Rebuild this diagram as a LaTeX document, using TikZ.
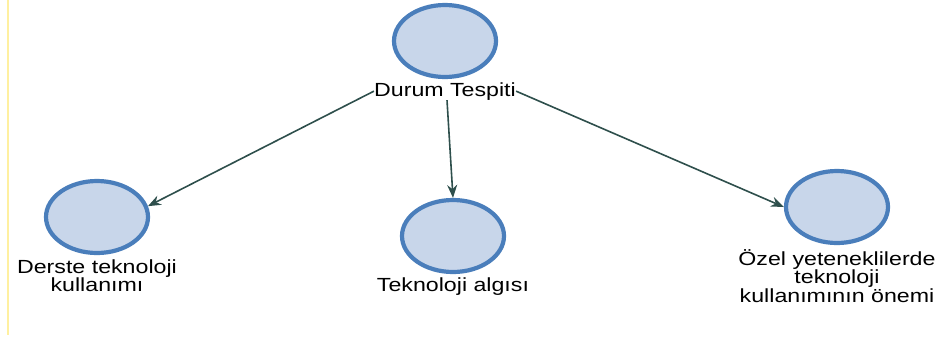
\documentclass[tikz,border=0pt]{standalone}
\usepackage{fontspec}
\setmainfont{Liberation Sans}
\usepackage{tikz}
\usetikzlibrary{arrows.meta,positioning,shapes.geometric}

\definecolor{nodefill}{HTML}{C8D6EA}
\definecolor{nodeline}{HTML}{4A7EBB}
\definecolor{edgecol}{HTML}{2E4F4C}
\definecolor{railcol}{HTML}{FFF0A0}

\begin{document}
\begin{tikzpicture}[x=1pt,y=1pt,
    theme/.style={ellipse,draw=nodeline,fill=nodefill,line width=4.2pt,
      minimum width=102pt,minimum height=72pt,inner sep=0pt},
    tag/.style={font=\fontsize{19}{18.5}\selectfont,align=center,inner sep=0pt,
      xscale=1.22,transform shape},
    link/.style={draw=edgecol,line width=1.6pt,-{Stealth[length=13pt,width=10pt]}}]
  \useasboundingbox (0,0) rectangle (939,-341);
  \draw[railcol,line width=1.2pt] (8,0) -- (8,-335);
  % themes
  \node[theme] (durum) at (445,-41) {};
  \node[tag,below=3pt of durum] (durumT) {Durum Tespiti};
  \node[theme] (derste) at (97,-217) {};
  \node[tag,below=4pt of derste] (dersteT) {Derste teknoloji\\kullanımı};
  \node[theme] (algi) at (453,-236) {};
  \node[tag,below=3pt of algi] (algiT) {Teknoloji algısı};
  \node[theme] (ozel) at (837,-207) {};
  \node[tag,below=4pt of ozel] (ozelT) {Özel yeteneklilerde\\teknoloji\\kullanımının önemi};
  % edges
  \draw[link] (durumT.west) -- (derste.12);
  \draw[link] ([xshift=2pt]durumT.south) -- (algi.north);
  \draw[link] (durumT.east) -- (ozel.west);
\end{tikzpicture}
\end{document}
